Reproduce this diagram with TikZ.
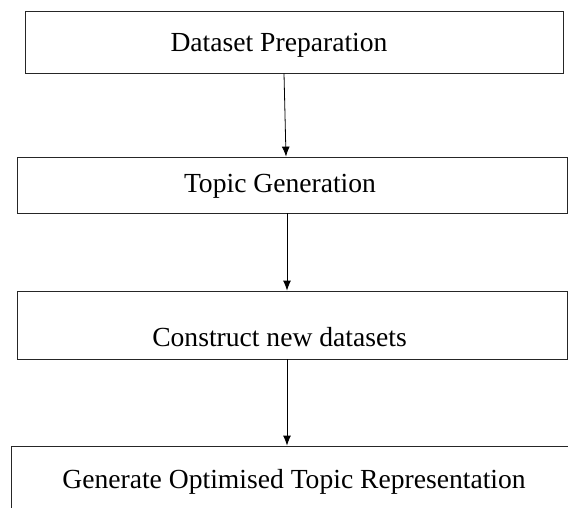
\documentclass[tikz,border=0pt]{standalone}
\usepackage{fontspec}
\setmainfont{Liberation Serif}
\usetikzlibrary{arrows.meta}
\begin{document}
\begin{tikzpicture}[x=1pt,y=-1pt,
  box/.style={draw=black!85,line width=0.8pt,rectangle,inner sep=0pt},
  lbl/.style={anchor=base,inner sep=0pt,font=\fontsize{27.6}{33}\selectfont},
  arr/.style={draw=black,line width=0.8pt,-{Latex[length=10pt,width=8pt]}}]
\useasboundingbox (0,0) rectangle (568,508);
\node[box,minimum width=538pt,minimum height=62pt] (b1) at (294,42) {};
\node[box,minimum width=550pt,minimum height=56pt] (b2) at (292,185) {};
\node[box,minimum width=550pt,minimum height=68pt] (b3) at (292,325) {};
\node[box,minimum width=579pt,minimum height=84pt] (b4) at (300.5,488) {};
\node[lbl] (t1) at (279,52) {Dataset Preparation};
\node[lbl] (t2) at (280,193) {Topic Generation};
\node[lbl] (t3) at (279.5,346) {Construct new datasets};
\node[lbl] (t4) at (294,488) {Generate Optimised Topic Representation};
\draw[arr] ([xshift=-10pt]b1.south) -- ([xshift=-6pt]b2.north);
\draw[arr] ([xshift=-5pt]b2.south) -- ([xshift=-5pt]b3.north);
\draw[arr] ([xshift=-5pt]b3.south) -- ([xshift=-13.5pt]b4.north);
\end{tikzpicture}
\end{document}
